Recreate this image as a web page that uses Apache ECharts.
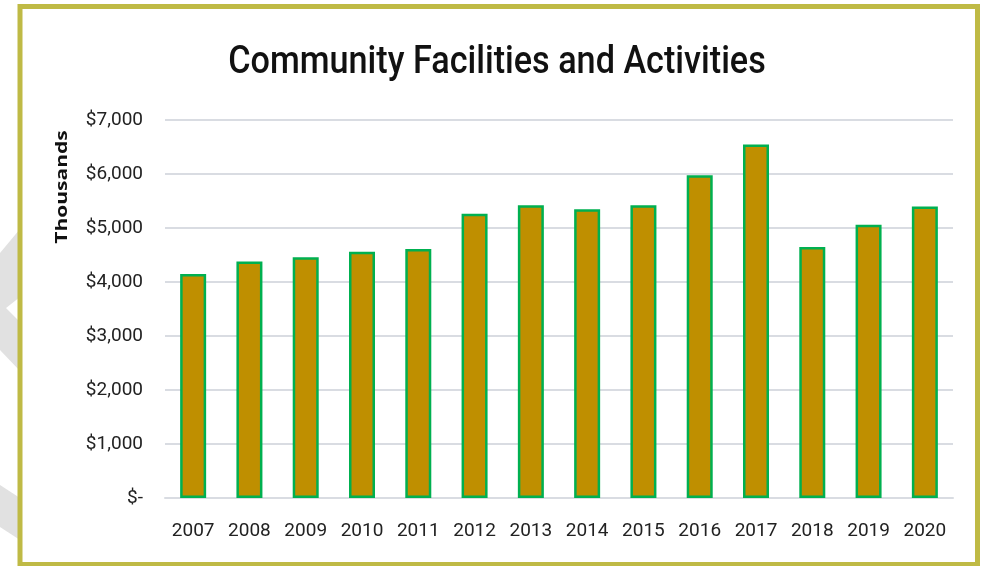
<!DOCTYPE html>
<html>
<head>
<meta charset="utf-8">
<style>
  html, body { margin: 0; padding: 0; background: #ffffff; }
  #chart { width: 982px; height: 566px; }
</style>
<script src="https://cdn.jsdelivr.net/npm/echarts@6/dist/echarts.min.js"></script>
</head>
<body>
<div id="chart"></div>
<script>
// Spending per year, in thousands of dollars
const years = ['2007', '2008', '2009', '2010', '2011', '2012', '2013',
               '2014', '2015', '2016', '2017', '2018', '2019', '2020'];
const spending = [4150, 4380, 4460, 4560, 4610, 5265, 5420,
                  5345, 5420, 5975, 6545, 4650, 5060, 5400];
const yTicks = [0, 1000, 2000, 3000, 4000, 5000, 6000, 7000];

const titleText = 'Community Facilities and Activities';
const unitText = 'Thousands';

const labelFont = "Roboto, sans-serif";

const chart = echarts.init(document.getElementById('chart'), null, { renderer: 'canvas' });

function money(v) {
  if (v === 0) return '$-';
  return '$' + v.toLocaleString('en-US');
}

chart.setOption({
  animation: false,
  backgroundColor: '#ffffff',
  grid: { left: 165, right: 29, top: 120, bottom: 68, containLabel: false },
  xAxis: {
    type: 'category',
    data: years,
    axisTick: { show: false },
    axisLine: { show: true, lineStyle: { color: '#d9dce2', width: 2 } },
    axisLabel: { interval: 0, color: '#222222', fontFamily: labelFont, fontSize: 19, margin: 24 }
  },
  yAxis: {
    type: 'value',
    min: yTicks[0],
    max: yTicks[yTicks.length - 1],
    interval: yTicks[1] - yTicks[0],
    axisLine: { show: false },
    axisTick: { show: false },
    splitLine: { lineStyle: { color: '#d9dce2', width: 2 } },
    axisLabel: { color: '#222222', fontFamily: labelFont, fontSize: 19, margin: 22, formatter: money }
  },
  series: [{
    type: 'bar',
    data: spending,
    barWidth: 26,
    itemStyle: { color: '#bf8f00', borderColor: '#00b050', borderWidth: 2.5 }
  }],
  graphic: [
    // light grey chevron shapes along the left edge
    { type: 'polygon', z: 0, shape: { points: [[0,253],[20,229],[20,297],[6,308],[20,322],[20,371],[0,350]] },
      style: { fill: '#e1e1e1' } },
    { type: 'polygon', z: 0, shape: { points: [[0,485],[20,498],[20,540],[0,527]] },
      style: { fill: '#e1e1e1' } },
    // outer frame
    { type: 'rect', z: 10, shape: { x: 20, y: 6.5, width: 957.5, height: 558 },
      style: { fill: 'none', stroke: '#bfba45', lineWidth: 5 } },
    // chart title
    { type: 'text', z: 10, x: 497, y: 63, scaleX: 0.9,
      style: { text: titleText, fill: '#111111', font: '500 38px Roboto, sans-serif',
               textAlign: 'center', textVerticalAlign: 'middle' } },
    // unit label on the value axis
    { type: 'text', z: 10, x: 62, y: 187, rotation: Math.PI / 2, scaleY: 0.8,
      style: { text: unitText, fill: '#111111', font: 'bold 21px "Open Sans", sans-serif',
               textAlign: 'center', textVerticalAlign: 'middle' } }
  ]
});
</script>
</body>
</html>
